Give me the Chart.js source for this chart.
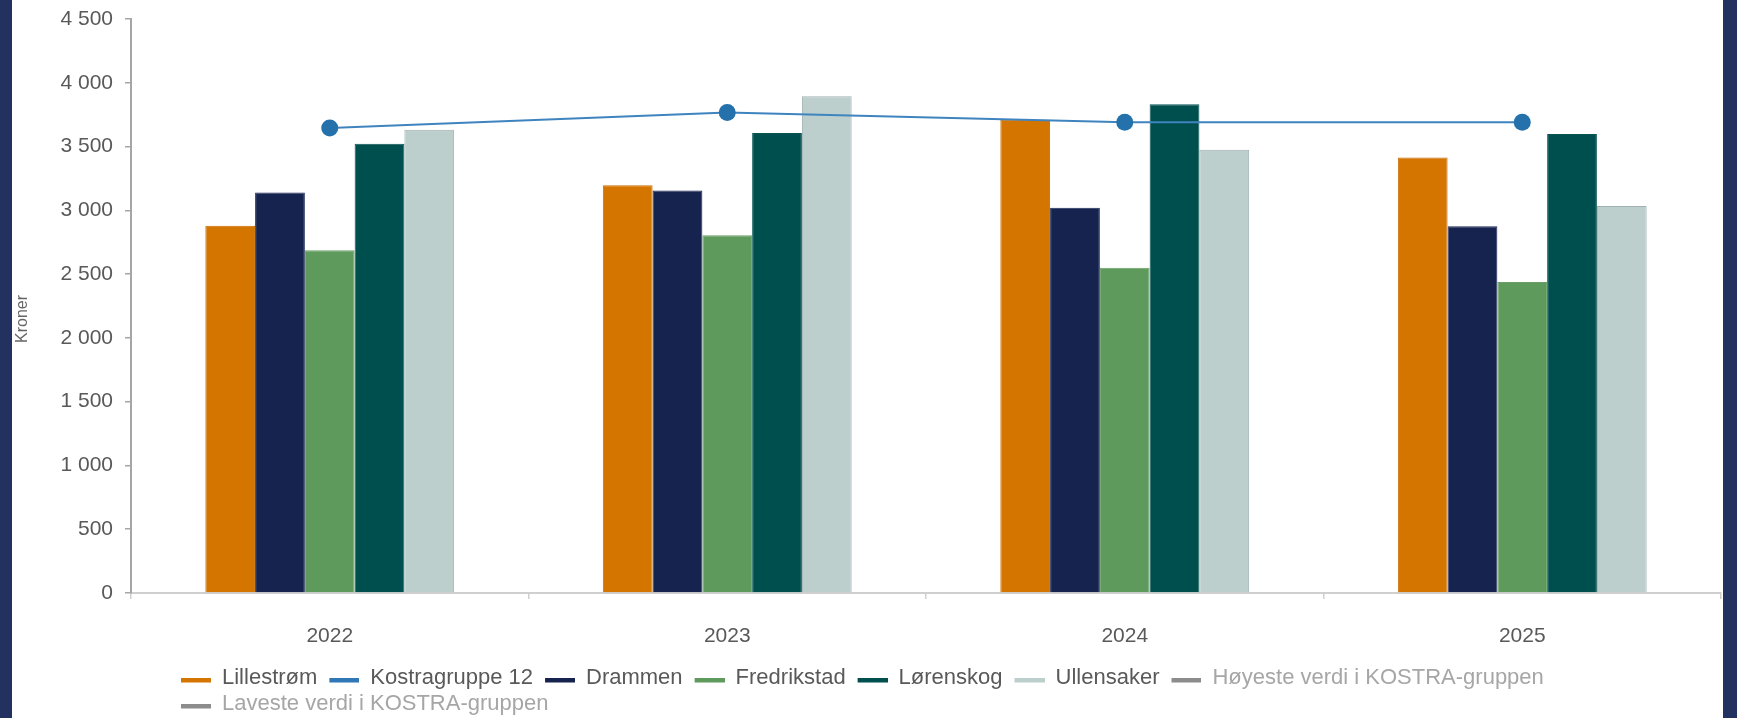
<!DOCTYPE html>
<html>
<head>
<meta charset="utf-8">
<title>Kroner per år</title>
<script src="https://cdn.jsdelivr.net/npm/chart.js@4.4.1/dist/chart.umd.min.js"></script>
<style>
  html, body { margin: 0; padding: 0; background: #22315f; }
  #wrap { position: absolute; left: 12px; top: 0; width: 1711px; height: 718px; background: #fff; }
</style>
</head>
<body>
<div id="wrap"><canvas id="myChart"></canvas></div>
<script>
'use strict';

// data
const years = ['2022', '2023', '2024', '2025'];
const lillestrom = [2880, 3196, 3710, 3415];
const kostragruppe = [3645, 3767, 3690, 3690];
const drammen = [3140, 3155, 3020, 2876];
const fredrikstad = [2688, 2804, 2550, 2438];
const lorenskog = [3522, 3606, 3832, 3598];
const ullensaker = [3632, 3895, 3475, 3033];
const yTicks = [0, 500, 1000, 1500, 2000, 2500, 3000, 3500, 4000, 4500];
const yTitle = 'Kroner';

const textGray = '#595959';
const mutedGray = '#a6a6a6';

Chart.defaults.font.family = '"Liberation Sans", Arial, sans-serif';

// legend swatch: short thick line with some blank room on the left
function swatch(color) {
  const c = document.createElement('canvas');
  c.width = 38;
  c.height = 10;
  const g = c.getContext('2d');
  g.fillStyle = color;
  g.fillRect(8, 5, 30, 4.5);
  return c;
}

function bar(label, data, color, border) {
  return {
    label: label,
    data: data,
    backgroundColor: color,
    borderColor: border,
    borderWidth: 1,
    order: 1,
    swatchColor: color
  };
}

function thousands(v) {
  return String(v).replace(/\B(?=(\d{3})+(?!\d))/g, ' ');
}

// move the legend to where it sits in the picture
const legendShift = {
  id: 'legendShift',
  afterLayout(chart) {
    chart.legend.left = 157;
    chart.legend.top = 663;
  }
};

// rotated axis title, a bit below the middle like in the picture
const axisTitle = {
  id: 'axisTitle',
  afterDraw(chart) {
    const c = chart.ctx;
    c.save();
    c.translate(11, 319);
    c.rotate(-Math.PI / 2);
    c.font = '16px "Liberation Sans", Arial, sans-serif';
    c.fillStyle = '#666666';
    c.textAlign = 'center';
    c.textBaseline = 'middle';
    c.fillText(yTitle, 0, 0);
    c.restore();
  }
};

const ctx = document.getElementById('myChart').getContext('2d');
const myChart = new Chart(ctx, {
  type: 'bar',
  data: {
    labels: years,
    datasets: [
      bar('Lillestrøm', lillestrom, '#d47500', '#c86e00'),
      {
        type: 'line',
        label: 'Kostragruppe 12',
        data: kostragruppe,
        borderColor: '#3f84bf',
        borderWidth: 2,
        pointRadius: 8.5,
        pointHoverRadius: 8.5,
        pointBackgroundColor: '#2471ac',
        pointBorderWidth: 0,
        tension: 0,
        order: 0,
        swatchColor: '#2f78b5'
      },
      bar('Drammen', drammen, '#16234f', '#1d2a55'),
      bar('Fredrikstad', fredrikstad, '#5e9a5c', '#6a9f68'),
      bar('Lørenskog', lorenskog, '#004f4f', '#0b5555'),
      bar('Ullensaker', ullensaker, '#bccfcd', '#9fb1af'),
      { type: 'line', label: 'Høyeste verdi i KOSTRA-gruppen', data: [], borderColor: '#8c8c8c', swatchColor: '#8c8c8c', muted: true },
      { type: 'line', label: 'Laveste verdi i KOSTRA-gruppen', data: [], borderColor: '#8c8c8c', swatchColor: '#8c8c8c', muted: true }
    ]
  },
  options: {
    responsive: true,
    maintainAspectRatio: false,
    animation: false,
    layout: { autoPadding: false, padding: { left: 0, right: 2, top: 19, bottom: 0 } },
    datasets: {
      bar: { categoryPercentage: 0.626, barPercentage: 1.0 }
    },
    plugins: {
      tooltip: { enabled: false },
      legend: {
        position: 'bottom',
        align: 'start',
        labels: {
          usePointStyle: true,
          pointStyleWidth: 38,
          boxHeight: 22,
          padding: 4,
          font: { size: 22 },
          generateLabels(chart) {
            return chart.data.datasets.map((ds, i) => ({
              text: ds.label,
              pointStyle: swatch(ds.swatchColor),
              fillStyle: ds.swatchColor,
              strokeStyle: ds.swatchColor,
              lineWidth: 0,
              fontColor: ds.muted ? mutedGray : textGray,
              hidden: false,
              datasetIndex: i
            }));
          }
        }
      }
    },
    scales: {
      x: {
        afterFit(scale) {
          scale.height = 63;
          scale.paddingLeft = 0;
          scale.paddingRight = 0;
        },
        border: { display: true, color: '#cfcfcf', width: 2 },
        grid: { display: true, drawOnChartArea: false, drawTicks: true, tickLength: 6, color: '#cfcfcf', lineWidth: 1.5 },
        ticks: { color: textGray, font: { size: 21 }, padding: 25 }
      },
      y: {
        min: 0,
        max: 4500,
        afterFit(scale) {
          scale.width = 119;
          scale.paddingTop = 0;
          scale.paddingBottom = 0;
        },
        afterBuildTicks(scale) { scale.ticks = yTicks.map(v => ({ value: v })); },
        border: { display: true, color: '#a6a6a6', width: 2 },
        grid: { display: true, drawOnChartArea: false, drawTicks: true, tickLength: 6, color: '#a6a6a6', lineWidth: 1.5 },
        ticks: {
          color: textGray,
          font: { size: 21 },
          padding: 12,
          callback: (v) => thousands(v)
        }
      }
    }
  },
  plugins: [legendShift, axisTitle]
});
</script>
</body>
</html>
